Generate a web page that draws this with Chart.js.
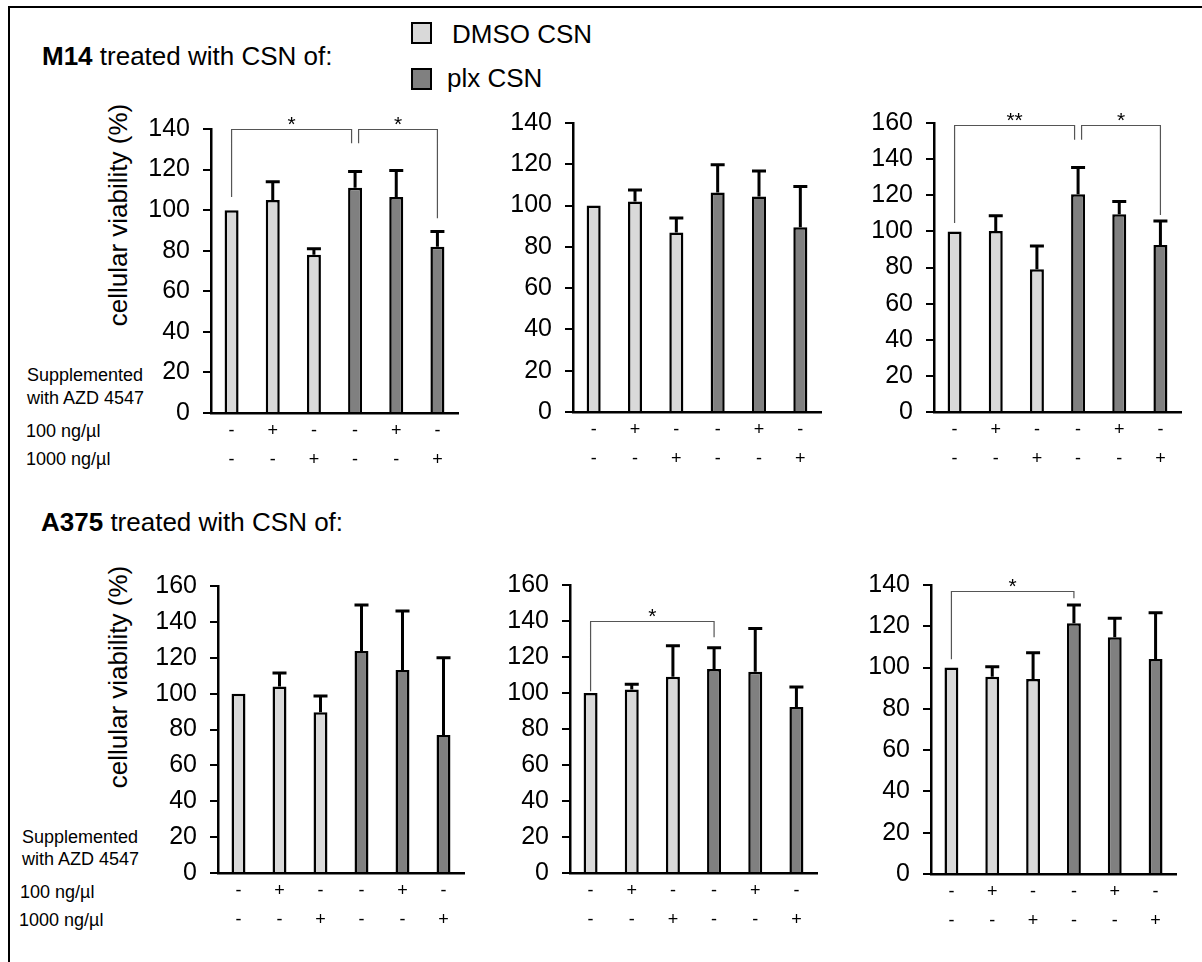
<!DOCTYPE html>
<html>
<head>
<meta charset="utf-8">
<script src="https://cdn.jsdelivr.net/npm/chart.js@4.4.1/dist/chart.umd.min.js"></script>
<style>
  body { margin: 0; background: #fff; font-family: 'Liberation Sans', Arial, sans-serif; color: #000; }
  #page { position: relative; width: 1202px; height: 962px; overflow: hidden; }
  .frame { position: absolute; left: 8px; top: 6px; right: -5px; bottom: -5px; border-top: 2.5px solid #000; border-left: 2.5px solid #000; }
  canvas { position: absolute; }
  .txt { position: absolute; white-space: nowrap; }
  .head { font-size: 26px; line-height: 30px; }
  .small { font-size: 18px; line-height: 22px; }
  .ytitle { position: absolute; font-size: 26px; line-height: 30px; white-space: nowrap; transform: translate(-50%, -50%) rotate(-90deg); }
  .sw { position: absolute; width: 21px; height: 22px; box-sizing: border-box; border: 2.5px solid #000; }
</style>
</head>
<body>
<div id="page">
  <div class="frame"></div>

  <div class="txt head" style="left:42px; top:41px;"><b>M14</b> treated with CSN of:</div>
  <div class="txt head" style="left:41px; top:507px;"><b>A375</b> treated with CSN of:</div>

  <div class="sw" style="left:411px; top:22px; background:#d9d9d9;"></div>
  <div class="txt head" style="left:452px; top:19px;">DMSO CSN</div>
  <div class="sw" style="left:411px; top:68px; background:#808080;"></div>
  <div class="txt head" style="left:447px; top:63px;">plx CSN</div>

  <div class="ytitle" style="left:118px; top:215px;">cellular viability (%)</div>
  <div class="ytitle" style="left:118px; top:677px;">cellular viability (%)</div>

  <div class="txt small" style="left:27px; top:364px;">Supplemented</div>
  <div class="txt small" style="left:27px; top:387px;">with AZD 4547</div>
  <div class="txt small" style="left:26px; top:420px;">100 ng/µl</div>
  <div class="txt small" style="left:26px; top:448px;">1000 ng/µl</div>

  <div class="txt small" style="left:22px; top:826px;">Supplemented</div>
  <div class="txt small" style="left:22px; top:848px;">with AZD 4547</div>
  <div class="txt small" style="left:20px; top:881px;">100 ng/µl</div>
  <div class="txt small" style="left:19px; top:909px;">1000 ng/µl</div>

  <canvas id="m14a" width="347" height="379" style="left:121px; top:99px;"></canvas>
  <canvas id="m14b" width="348" height="384" style="left:483px; top:93px;"></canvas>
  <canvas id="m14c" width="347" height="384" style="left:844px; top:93px;"></canvas>
  <canvas id="a375a" width="346" height="382" style="left:128px; top:556px;"></canvas>
  <canvas id="a375b" width="347" height="383" style="left:480px; top:555px;"></canvas>
  <canvas id="a375c" width="345" height="384" style="left:841px; top:555px;"></canvas>
</div>

<script>
// conditions (same six bars in every panel)
const conditions = ['DMSO CSN', 'DMSO CSN + AZD 100', 'DMSO CSN + AZD 1000', 'plx CSN', 'plx CSN + AZD 100', 'plx CSN + AZD 1000'];
const csnGroup = ['DMSO', 'DMSO', 'DMSO', 'plx', 'plx', 'plx'];
const row100 = ['-', '+', '-', '-', '+', '-'];
const row1000 = ['-', '-', '+', '-', '-', '+'];

// M14
const m14aMean = [100, 105, 78, 111, 106.5, 82];
const m14aSd = [0, 9, 3, 8, 13, 7.5];
const m14aMax = 140;
const m14aBrackets = [[0, 3, 140, 106.5, 133, '*'], [3, 5, 140, 133, 96, '*']];

const m14bMean = [100, 102, 87, 106.3, 104.4, 89.5];
const m14bSd = [0, 5.6, 7, 13.5, 12.4, 19.7];
const m14bMax = 140;
const m14bBrackets = [];

const m14cMean = [100, 100.2, 79, 120.6, 109.5, 92.5];
const m14cSd = [0, 8.4, 12.9, 14.8, 7, 13.3];
const m14cMax = 160;
const m14cBrackets = [[0, 3, 159, 104.7, 150.7, '**'], [3, 5, 159, 150.7, 109, '*']];

// A375
const a375aMean = [100, 104, 89.6, 123.8, 113.2, 77];
const a375aSd = [0, 7.5, 9.1, 25.6, 32.8, 43];
const a375aMax = 160;
const a375aBrackets = [];

const a375bMean = [100, 102, 109, 113.3, 111.8, 92.2];
const a375bSd = [0, 2.8, 17.3, 11.8, 24.1, 11.1];
const a375bMax = 160;
const a375bBrackets = [[0, 3, 140, 101, 131, '*']];

const a375cMean = [100, 95.6, 94.5, 121.5, 114.7, 104.2];
const a375cSd = [0, 4.8, 12.7, 8.8, 9.2, 22.4];
const a375cMax = 140;
const a375cBrackets = [[0, 3, 137, 104, 133.6, '*']];

const groupColor = { DMSO: '#d9d9d9', plx: '#808080' };
const FONT = "'Liberation Sans', Arial, sans-serif";

// error bars (upper only) and significance brackets
function overlay(mean, sd, brackets) {
  return {
    id: 'overlay',
    afterDatasetsDraw(chart) {
      const { ctx, scales: { x, y } } = chart;
      const bars = chart.getDatasetMeta(0).data;
      ctx.save();
      ctx.strokeStyle = '#000';
      ctx.lineWidth = 3;
      bars.forEach((bar, i) => {
        if (!sd[i]) return;
        const top = y.getPixelForValue(mean[i] + sd[i]);
        ctx.beginPath();
        ctx.moveTo(bar.x, bar.y);
        ctx.lineTo(bar.x, top);
        ctx.moveTo(bar.x - 7, top);
        ctx.lineTo(bar.x + 7, top);
        ctx.stroke();
      });

      const shared = idx => brackets.filter(b => b[0] === idx || b[1] === idx).length > 1;
      ctx.strokeStyle = '#555';
      ctx.lineWidth = 1.2;
      ctx.fillStyle = '#000';
      ctx.font = '21px ' + FONT;
      ctx.textAlign = 'center';
      ctx.textBaseline = 'alphabetic';
      brackets.forEach(([from, to, level, endA, endB, label]) => {
        let xa = x.getPixelForValue(from);
        let xb = x.getPixelForValue(to);
        if (shared(from)) xa += 3.5;
        if (shared(to)) xb -= 3.5;
        const yl = Math.round(y.getPixelForValue(level)) + 0.5;
        ctx.beginPath();
        ctx.moveTo(xa, y.getPixelForValue(endA));
        ctx.lineTo(xa, yl);
        ctx.lineTo(xb, yl);
        ctx.lineTo(xb, y.getPixelForValue(endB));
        ctx.stroke();
        ctx.fillText(label, (xa + xb) / 2, yl + 1);
      });
      ctx.restore();
    }
  };
}

function panel(id, mean, sd, yMax, brackets) {
  new Chart(document.getElementById(id), {
    type: 'bar',
    data: {
      labels: conditions,
      datasets: [{
        data: mean,
        backgroundColor: csnGroup.map(g => groupColor[g]),
        borderColor: '#000',
        borderWidth: 2.5,
        barPercentage: 0.34,
        categoryPercentage: 1
      }]
    },
    options: {
      responsive: false,
      animation: false,
      layout: { padding: { top: 30, right: 10, left: 0, bottom: 0 } },
      plugins: { legend: { display: false }, tooltip: { enabled: false } },
      scales: {
        x: {
          grid: { display: false, drawTicks: false },
          border: { display: true, color: '#000', width: 2.5 },
          ticks: {
            color: '#000',
            padding: 4,
            maxRotation: 0,
            autoSkip: false,
            font: { family: FONT, size: 18, lineHeight: 1.6 },
            callback: (v, i) => [row100[i], row1000[i]]
          },
          afterFit: s => { s.height = 65; }
        },
        y: {
          min: 0,
          max: yMax,
          grid: { drawOnChartArea: false, drawTicks: true, tickLength: 8, color: '#000', lineWidth: 2 },
          border: { display: true, color: '#000', width: 2.5 },
          ticks: { stepSize: 20, color: '#000', padding: 13, font: { family: FONT, size: 25 } },
          afterFit: s => { s.width = 90; }
        }
      }
    },
    plugins: [overlay(mean, sd, brackets)]
  });
}

panel('m14a', m14aMean, m14aSd, m14aMax, m14aBrackets);
panel('m14b', m14bMean, m14bSd, m14bMax, m14bBrackets);
panel('m14c', m14cMean, m14cSd, m14cMax, m14cBrackets);
panel('a375a', a375aMean, a375aSd, a375aMax, a375aBrackets);
panel('a375b', a375bMean, a375bSd, a375bMax, a375bBrackets);
panel('a375c', a375cMean, a375cSd, a375cMax, a375cBrackets);
</script>
</body>
</html>
